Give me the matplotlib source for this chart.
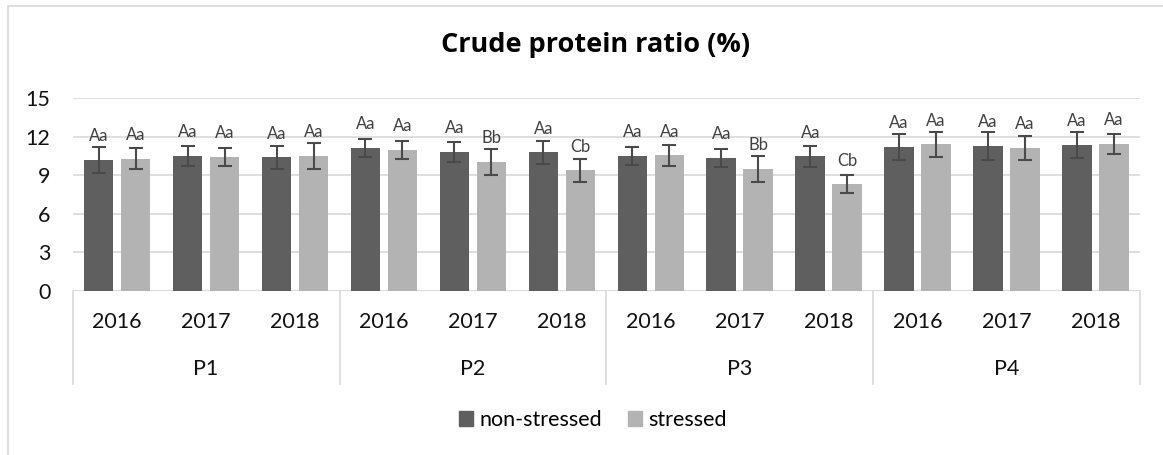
import matplotlib
matplotlib.use("Agg")
import matplotlib.pyplot as plt
import numpy as np
from matplotlib.patches import Rectangle, Patch
from matplotlib.transforms import blended_transform_factory

plt.rcParams['font.family'] = ['Lato', 'DejaVu Sans']

groups = ['P1', 'P2', 'P3', 'P4']
years = ['2016', '2017', '2018']
series_names = ['non-stressed', 'stressed']

non_stressed = [10.19, 10.50, 10.40, 11.13, 10.82, 10.79, 10.50, 10.38, 10.48, 11.20, 11.31, 11.36]
stressed = [10.30, 10.45, 10.53, 11.00, 10.04, 9.39, 10.56, 9.52, 8.30, 11.41, 11.13, 11.44]
err_ns = [1.0, 0.8, 0.9, 0.7, 0.8, 0.9, 0.7, 0.7, 0.8, 1.0, 1.1, 1.0]
err_s = [0.8, 0.7, 1.0, 0.7, 1.0, 0.9, 0.8, 1.0, 0.7, 1.0, 0.9, 0.8]
labels_ns = ['Aa'] * 12
labels_s = ['Aa', 'Aa', 'Aa', 'Aa', 'Bb', 'Cb', 'Aa', 'Bb', 'Cb', 'Aa', 'Aa', 'Aa']

W, H = 1163, 455
fig = plt.figure(figsize=(W / 100, H / 100), dpi=100)
ax = fig.add_axes([72.7 / W, 1 - 291 / H, (1140 - 72.7) / W, (291 - 98.3) / H])

n = len(non_stressed)
x = np.arange(n)
off = 0.208
bw = 0.332
c_ns = '#5f5f5f'
c_s = '#b3b3b3'
ecol = '#4a4a4a'

ax.bar(x - off, non_stressed, bw, color=c_ns, zorder=3)
ax.bar(x + off, stressed, bw, color=c_s, zorder=3)
ax.errorbar(x - off, non_stressed, yerr=err_ns, fmt='none', ecolor=ecol,
            elinewidth=1.5, capsize=5, capthick=1.5, zorder=4)
ax.errorbar(x + off, stressed, yerr=err_s, fmt='none', ecolor=ecol,
            elinewidth=1.5, capsize=5, capthick=1.5, zorder=4)

for xi, v, t in zip(x - off, non_stressed, labels_ns):
    ax.annotate(t, (xi, v), xytext=(0, 13.5), textcoords='offset points',
                ha='center', va='baseline', fontsize=12, color='#404040', zorder=5)
for xi, v, t in zip(x + off, stressed, labels_s):
    ax.annotate(t, (xi, v), xytext=(0, 13.5), textcoords='offset points',
                ha='center', va='baseline', fontsize=12, color='#404040', zorder=5)

ax.set_xlim(-0.5, n - 0.5)
ax.set_ylim(0, 15)
ax.set_yticks([0, 3, 6, 9, 12, 15])
ax.tick_params(axis='y', length=0, pad=16, labelsize=15.5, labelcolor='#111111')
ax.set_xticks([])
for s in ax.spines.values():
    s.set_visible(False)
ax.grid(axis='y', color='#d9d9d9', linewidth=1.2, zorder=0)
ax.set_axisbelow(True)

# Category axis line
ax.axhline(0, color='#d9d9d9', linewidth=1.2, zorder=2)

trans = blended_transform_factory(ax.transData, ax.transAxes)
axh = 291 - 98.3
yr_y = -(322 - 291) / axh
grp_y = -(369 - 291) / axh
sep_bottom = -(384 - 291) / axh
for i in range(n):
    ax.text(x[i], yr_y, years[i % 3], transform=trans, ha='center', va='center',
            fontsize=15.5, color='#111111')
for gi, g in enumerate(groups):
    ax.text(gi * 3 + 1, grp_y, g, transform=trans, ha='center', va='center',
            fontsize=15.5, color='#111111')
for b in np.arange(-0.5, n, 3):
    ax.plot([b, b], [0, sep_bottom], transform=trans, color='#d9d9d9',
            linewidth=1.2, clip_on=False)

fig.text(596 / W, 1 - 45.5 / H, 'Crude protein ratio (%)', ha='center', va='center',
         fontsize=19.5, fontweight='bold', color='#000000',
         family=['Open Sans', 'DejaVu Sans'])

handles = [Patch(color=c_ns), Patch(color=c_s)]
fig.legend(handles, series_names, loc='center', bbox_to_anchor=(593 / W, 1 - 420 / H),
           ncol=2, frameon=False, fontsize=15.5, handlelength=0.65, handleheight=0.65,
           handletextpad=0.3, columnspacing=1.2, borderpad=0, borderaxespad=0)

fig.patches.append(Rectangle((8 / W, -0.1), 1.2, 1.1 - 6 / H, transform=fig.transFigure,
                             fill=False, edgecolor='#d9d9d9', linewidth=1.2, zorder=0))

fig.savefig('out.png', dpi=100)
